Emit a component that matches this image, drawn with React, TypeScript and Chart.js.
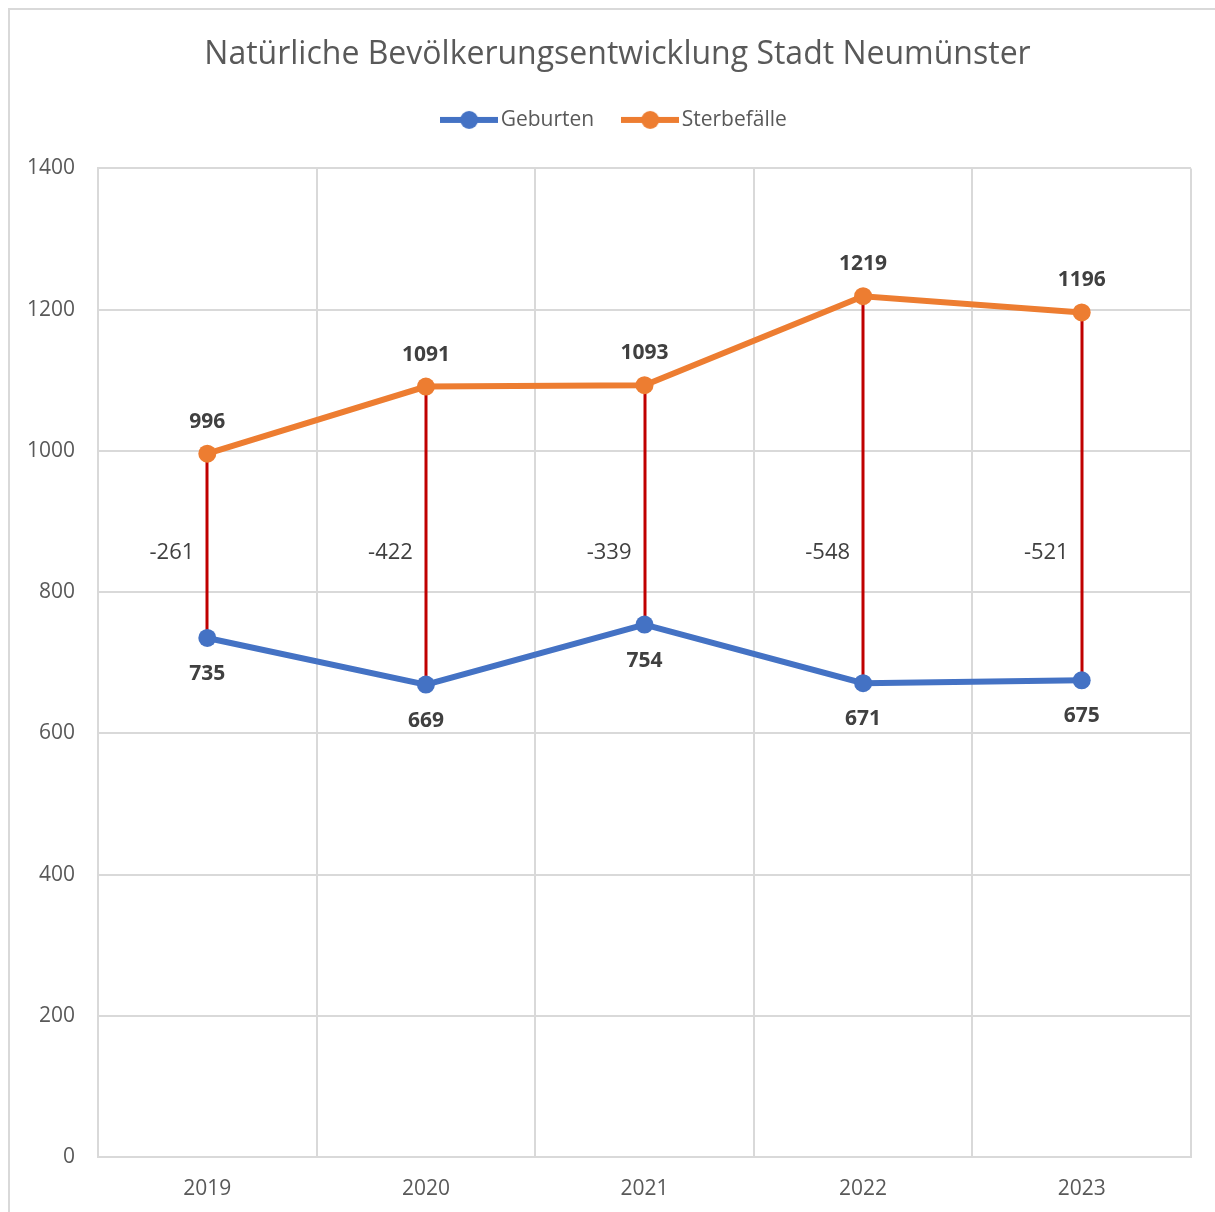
import React, { useEffect, useRef } from "react";
import { Chart, registerables } from "chart.js";

Chart.register(...registerables);

const YEARS = ["2019", "2020", "2021", "2022", "2023"];
const GEBURTEN = [735, 669, 754, 671, 675];
const STERBEFAELLE = [996, 1091, 1093, 1219, 1196];
const DIFFERENZ = GEBURTEN.map((g, i) => g - STERBEFAELLE[i]);

const TITLE = "Natürliche Bevölkerungsentwicklung Stadt Neumünster";
const BLUE = "#4472C4";
const ORANGE = "#ED7D31";
const RED = "#C00000";
const GRID = "#d9d9d9";
const TEXT = "#595959";
const LABEL = "#404040";
const FONT = "'Open Sans', 'Noto Sans', sans-serif";
const DIFF_LABEL_VALUE = 856;

function makeIcon(color: string): HTMLCanvasElement {
  const c = document.createElement("canvas");
  c.width = 58;
  c.height = 20;
  const ctx = c.getContext("2d")!;
  ctx.strokeStyle = color;
  ctx.lineWidth = 6;
  ctx.beginPath();
  ctx.moveTo(0, 10);
  ctx.lineTo(58, 10);
  ctx.stroke();
  ctx.fillStyle = color;
  ctx.beginPath();
  ctx.arc(29, 10, 9, 0, Math.PI * 2);
  ctx.fill();
  return c;
}

const dropLinesAndLabels = {
  id: "dropLinesAndLabels",
  beforeDatasetsDraw(chart: any) {
    const ctx = chart.ctx;
    const y = chart.scales.y;
    const x = chart.scales.x;
    ctx.save();
    ctx.strokeStyle = RED;
    ctx.lineWidth = 3;
    STERBEFAELLE.forEach((s, i) => {
      const px = Math.round(x.getPixelForValue(i));
      ctx.beginPath();
      ctx.moveTo(px, y.getPixelForValue(s));
      ctx.lineTo(px, y.getPixelForValue(GEBURTEN[i]));
      ctx.stroke();
    });
    ctx.restore();
  },
  afterDatasetsDraw(chart: any) {
    const ctx = chart.ctx;
    const y = chart.scales.y;
    const x = chart.scales.x;
    ctx.save();
    ctx.textBaseline = "middle";
    ctx.fillStyle = LABEL;
    ctx.font = `bold 21px ${FONT}`;
    ctx.textAlign = "center";
    STERBEFAELLE.forEach((v, i) => {
      ctx.fillText(String(v), x.getPixelForValue(i), y.getPixelForValue(v) - 32);
    });
    GEBURTEN.forEach((v, i) => {
      ctx.fillText(String(v), x.getPixelForValue(i), y.getPixelForValue(v) + 36);
    });
    ctx.font = `22px ${FONT}`;
    ctx.textAlign = "right";
    DIFFERENZ.forEach((v, i) => {
      ctx.fillText(String(v), x.getPixelForValue(i) - 13, y.getPixelForValue(DIFF_LABEL_VALUE));
    });
    ctx.restore();
  },
};

export default function App() {
  const ref = useRef<HTMLCanvasElement>(null);
  useEffect(() => {
    if (!ref.current) return;
    const iconBlue = makeIcon(BLUE);
    const iconOrange = makeIcon(ORANGE);
    const chart = new Chart(ref.current, {
      type: "line",
      data: {
        labels: YEARS,
        datasets: [
          {
            label: "Geburten",
            data: GEBURTEN,
            borderColor: BLUE,
            backgroundColor: BLUE,
            borderWidth: 6,
            pointRadius: 9,
            pointBorderWidth: 0,
            pointBackgroundColor: BLUE,
            pointStyle: "circle",
          },
          {
            label: "Sterbefälle",
            data: STERBEFAELLE,
            borderColor: ORANGE,
            backgroundColor: ORANGE,
            borderWidth: 6,
            pointRadius: 9,
            pointBorderWidth: 0,
            pointBackgroundColor: ORANGE,
            pointStyle: "circle",
          },
        ],
      },
      options: {
        responsive: false,
        animation: false,
        devicePixelRatio: 1,
        layout: { padding: { left: 10, right: 0, top: 0, bottom: 0 } },
        plugins: {
          title: {
            display: true,
            text: TITLE,
            color: TEXT,
            font: { family: FONT, size: 32, weight: "normal", lineHeight: 1.2 },
            padding: { top: 26, bottom: 0 },
          },
          legend: {
            display: true,
            position: "top",
            labels: {
              color: TEXT,
              font: { family: FONT, size: 21 },
              usePointStyle: true,
              pointStyleWidth: 42,
              padding: 35,
              generateLabels: (ch: any) =>
                ch.data.datasets.map((d: any, i: number) => ({
                  text: d.label,
                  fillStyle: d.borderColor,
                  strokeStyle: d.borderColor,
                  lineWidth: 0,
                  pointStyle: i === 0 ? iconBlue : iconOrange,
                  datasetIndex: i,
                  hidden: false,
                  fontColor: TEXT,
                })),
            },
          },
          tooltip: { enabled: false },
        },
        scales: {
          x: {
            type: "category",
            offset: true,
            grid: { color: GRID, lineWidth: 2, drawTicks: false, offset: true },
            border: { color: GRID, width: 2 },
            ticks: { color: TEXT, font: { family: FONT, size: 21 }, padding: 19 },
            afterFit: (s: any) => {
              s.height = 55;
            },
          },
          xTop: {
            type: "category",
            position: "top",
            display: true,
            grid: { display: false, drawTicks: false },
            border: { display: false },
            ticks: { display: false },
            afterFit: (s: any) => {
              s.height = 28;
            },
          },
          y: {
            min: 0,
            max: 1400,
            grid: { color: GRID, lineWidth: 2, drawTicks: false },
            border: { color: GRID, width: 2 },
            ticks: {
              stepSize: 200,
              color: TEXT,
              font: { family: FONT, size: 21 },
              padding: 23,
              callback: (v: any) => String(v),
            },
            afterFit: (s: any) => {
              s.width = 78;
            },
          },
          yRight: {
            type: "linear",
            position: "right",
            display: true,
            grid: { display: false, drawTicks: false },
            border: { display: false },
            ticks: { display: false },
            afterFit: (s: any) => {
              s.width = 24;
            },
          },
        },
      },
      plugins: [dropLinesAndLabels],
    });
    return () => chart.destroy();
  }, []);

  return (
    <div style={{ position: "fixed", top: 8, left: 8, right: 0, bottom: 0, overflow: "hidden" }}>
      <div
        style={{
          borderTop: `2px solid ${GRID}`,
          borderLeft: `2px solid ${GRID}`,
          width: 1207,
          height: 1210,
          boxSizing: "border-box",
        }}
      >
        <canvas ref={ref} width={1205} height={1202} style={{ display: "block" }} />
      </div>
    </div>
  );
}
